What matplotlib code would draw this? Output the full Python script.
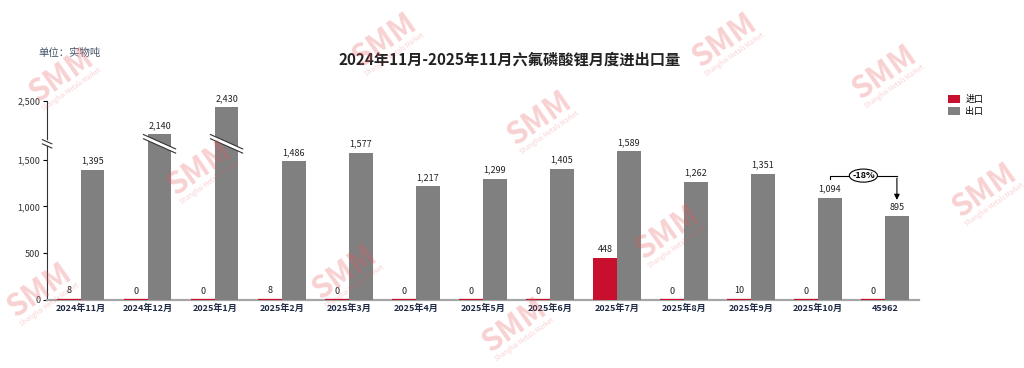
import matplotlib
matplotlib.use("Agg")
import matplotlib.pyplot as plt
from matplotlib.patches import Polygon, Ellipse
import numpy as np

plt.rcParams['font.family'] = ['Noto Sans CJK SC', 'DejaVu Sans']

months = ['2024年11月', '2024年12月', '2025年1月', '2025年2月', '2025年3月', '2025年4月',
          '2025年5月', '2025年6月', '2025年7月', '2025年8月', '2025年9月', '2025年10月', '45962']
imports = [8, 0, 0, 8, 0, 0, 0, 0, 448, 0, 10, 0, 0]
exports = [1395, 2140, 2430, 1486, 1577, 1217, 1299, 1405, 1589, 1262, 1351, 1094, 895]
ytick_vals = [0, 500, 1000, 1500, 2500]

# broken axis: values above BREAK are shifted down by OFFSET
BREAK = 2000
OFFSET = 370
CUT = 1670


def shown(v):
    return v if v < BREAK else v - OFFSET


red = '#C8102E'
grey = '#808080'

fig = plt.figure(figsize=(10.24, 3.68), dpi=100)
ax = fig.add_axes([0.046, 0.185, 0.851, 0.541])

x = np.arange(len(months))
w = 0.355
imp_h = [shown(v) for v in imports]
exp_h = [shown(v) for v in exports]
ax.bar(x - w / 2, imp_h, w, color=red, label='进口', zorder=3)
ax.bar(x + w / 2, exp_h, w, color=grey, label='出口', zorder=3)
# thin red foot under every import bar (visible even for zero months)
ax.hlines(np.zeros(len(x)), x - w, x, color=red, lw=1.6, zorder=4)

for xi, v, h in zip(x, imports, imp_h):
    ax.annotate(f'{v:,}', (xi - w / 2, h), xytext=(0, 3), textcoords='offset points',
                ha='center', va='bottom', fontsize=6.5, color='#222222')
for xi, v, h in zip(x, exports, exp_h):
    ax.annotate(f'{v:,}', (xi + w / 2, h), xytext=(0, 3), textcoords='offset points',
                ha='center', va='bottom', fontsize=6.5, color='#222222', annotation_clip=False)

# break marks on the tall bars
slope = 320
gap = 45
for xi, v in zip(x, exports):
    if v >= BREAK:
        cx = xi + w / 2
        x0, x1 = cx - 0.24, cx + 0.24
        y0 = CUT - slope * (x0 - cx)
        y1 = CUT - slope * (x1 - cx)
        ax.add_patch(Polygon([[x0, y0 - gap / 2], [x1, y1 - gap / 2], [x1, y1 + gap / 2], [x0, y0 + gap / 2]],
                             closed=True, facecolor='white', edgecolor='none', zorder=4))
        ax.plot([x0, x1], [y0 - gap / 2, y1 - gap / 2], color='#333333', lw=0.8, zorder=5)
        ax.plot([x0, x1], [y0 + gap / 2, y1 + gap / 2], color='#333333', lw=0.8, zorder=5)

# break marks on the y axis
ax.add_patch(Polygon([[-0.56, CUT + 60], [-0.44, CUT + 20], [-0.44, CUT - 40], [-0.56, CUT]],
                     closed=True, facecolor='white', edgecolor='none', zorder=5, clip_on=False))
for dy in (-gap / 2, gap / 2):
    ax.plot([-0.57, -0.43], [CUT + 22 + dy, CUT - 22 + dy], color='#333333', lw=0.8,
            zorder=6, clip_on=False)

ax.set_xlim(-0.5, len(months) - 0.5)
ax.set_ylim(0, shown(2500))
ax.set_yticks([shown(v) for v in ytick_vals])
ax.set_yticklabels([f'{v:,}' for v in ytick_vals], fontsize=6.5, color='#333333')
ax.set_xticks(x)
ax.set_xticklabels(months, fontsize=6.5, fontweight='bold', color='#1F2A44')
ax.tick_params(axis='x', length=0, pad=3)
ax.tick_params(axis='y', length=3, width=0.8, direction='out', pad=2)

for s in ['top', 'right']:
    ax.spines[s].set_visible(False)
ax.spines['left'].set_color('#333333')
ax.spines['left'].set_linewidth(0.8)
ax.spines['bottom'].set_color('#A6A6A6')
ax.spines['bottom'].set_linewidth(1.6)

# change annotation between the last two months
xa = x[11] + w / 2
xb = x[12] + w / 2
ytop = 1330
ax.plot([xa, xa, xb], [1290, ytop, ytop], color='black', lw=0.8, zorder=4)
ax.annotate('', xy=(xb, 1040), xytext=(xb, ytop + 4),
            arrowprops=dict(arrowstyle='-|>', color='black', lw=0.8, mutation_scale=8), zorder=4)
xm = (xa + xb) / 2
ax.add_patch(Ellipse((xm, ytop), 0.42, 140, facecolor='white', edgecolor='black', lw=0.8, zorder=5))
ax.text(xm, ytop, '-18%', ha='center', va='center', fontsize=6.5, fontweight='bold', zorder=6)

fig.legend(loc='upper left', bbox_to_anchor=(0.918, 0.765), frameon=False, fontsize=6.5,
           handlelength=1.3, handleheight=1.0, handletextpad=0.6, labelspacing=0.4)

fig.text(0.498, 0.837, '2024年11月-2025年11月六氟磷酸锂月度进出口量', ha='center', va='center',
         fontsize=11, fontweight='bold', color='#222222')
fig.text(0.038, 0.855, '单位：实物吨', ha='left', va='center', fontsize=7.5,
         style='italic', color='#44546A')

# SMM watermarks (pixel centres), kept inside the figure
marks = [(62, 75), (385, 40), (725, 40), (200, 168), (540, 118), (885, 72),
         (985, 190), (345, 272), (668, 232), (40, 290), (515, 325)]
for px, py in marks:
    fx, fy = px / 1024, 1 - py / 368
    fig.text(fx, fy, 'SMM', ha='center', va='center', rotation=35, fontsize=22,
             fontweight='black', color='#E8595F', alpha=0.28, zorder=10)
    fig.text(fx + 9 / 1024, fy - 15 / 368, 'Shanghai Metals Market', ha='center', va='center',
             rotation=35, fontsize=4.5, color='#E8595F', alpha=0.28, zorder=10)

fig.savefig('out.png', dpi=100)
